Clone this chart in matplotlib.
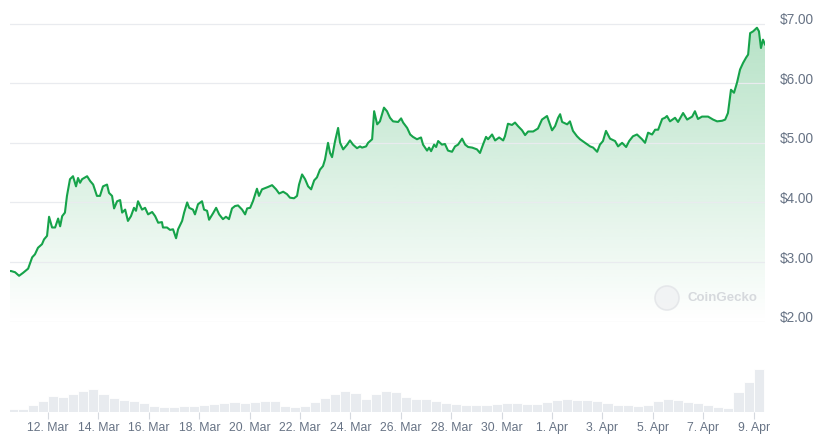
import numpy as np
import matplotlib.pyplot as plt
import matplotlib.transforms as mtransforms
from matplotlib.patches import Circle

# time axis: days after 12 Mar 00:00
days = [-1.51, -1.47, -1.31, -1.15, -0.99, -0.79, -0.63, -0.52, -0.40, -0.24, -0.16, -0.04,
        0.04, 0.16, 0.28, 0.40, 0.48, 0.56, 0.67, 0.75, 0.87, 0.99, 1.11, 1.19, 1.27, 1.35,
        1.55, 1.67, 1.79, 1.94, 2.06, 2.18, 2.34, 2.42, 2.54, 2.62, 2.74, 2.86, 2.94, 3.06,
        3.17, 3.29, 3.41, 3.49, 3.57, 3.73, 3.85, 3.97, 4.13, 4.25, 4.37, 4.52, 4.56, 4.72,
        4.84, 4.96, 5.08, 5.16, 5.32, 5.40, 5.52, 5.60, 5.75, 5.83, 5.95, 6.11, 6.19, 6.31,
        6.39, 6.55, 6.67, 6.79, 6.94, 7.06, 7.18, 7.30, 7.42, 7.54, 7.70, 7.82, 7.90, 8.02,
        8.13, 8.29, 8.37, 8.49, 8.61, 8.73, 8.89, 9.05, 9.17, 9.33, 9.48, 9.60, 9.76, 9.88,
        9.96, 10.08, 10.20, 10.32, 10.44, 10.56, 10.67, 10.79, 10.91, 10.99, 11.11, 11.19,
        11.27, 11.39, 11.51, 11.59, 11.71, 11.87, 11.98, 12.10, 12.26, 12.38, 12.46, 12.62,
        12.70, 12.86, 12.94, 13.06, 13.17, 13.33, 13.45, 13.57, 13.69, 13.89, 14.01, 14.09,
        14.25, 14.37, 14.48, 14.64, 14.80, 14.88, 15.04, 15.12, 15.20, 15.32, 15.40, 15.48,
        15.63, 15.75, 15.87, 16.03, 16.15, 16.27, 16.43, 16.55, 16.67, 16.83, 17.02, 17.14,
        17.26, 17.38, 17.46, 17.62, 17.74, 17.90, 18.06, 18.13, 18.25, 18.41, 18.53, 18.65,
        18.81, 18.93, 19.05, 19.25, 19.44, 19.60, 19.80, 20.00, 20.12, 20.24, 20.32, 20.40,
        20.60, 20.71, 20.83, 20.99, 21.11, 21.31, 21.51, 21.63, 21.79, 21.90, 22.02, 22.14,
        22.30, 22.50, 22.62, 22.78, 22.94, 23.06, 23.21, 23.37, 23.57, 23.69, 23.81, 23.97,
        24.09, 24.21, 24.37, 24.48, 24.56, 24.68, 24.88, 25.00, 25.20, 25.36, 25.56, 25.67,
        25.79, 25.95, 26.19, 26.39, 26.55, 26.75, 26.87, 26.98, 27.10, 27.22, 27.34, 27.46,
        27.58, 27.70, 27.78, 27.86, 27.98, 28.13, 28.21, 28.29, 28.37, 28.45]
price = [2.85, 2.85, 2.83, 2.77, 2.82, 2.89, 3.08, 3.13, 3.24, 3.30, 3.38, 3.44,
         3.76, 3.58, 3.58, 3.73, 3.60, 3.77, 3.83, 4.11, 4.39, 4.44, 4.27, 4.41, 4.33, 4.39,
         4.44, 4.36, 4.30, 4.11, 4.11, 4.27, 4.30, 4.16, 4.11, 3.90, 4.02, 4.04, 3.83, 3.88,
         3.69, 3.77, 3.91, 3.86, 4.02, 3.88, 3.91, 3.80, 3.84, 3.77, 3.66, 3.67, 3.58, 3.58,
         3.54, 3.55, 3.40, 3.55, 3.69, 3.83, 4.00, 3.91, 3.88, 3.80, 3.97, 4.02, 3.88, 3.86,
         3.71, 3.82, 3.91, 3.80, 3.72, 3.76, 3.72, 3.90, 3.94, 3.95, 3.88, 3.80, 3.90, 3.91,
         4.02, 4.23, 4.11, 4.22, 4.24, 4.26, 4.29, 4.22, 4.15, 4.18, 4.14, 4.08, 4.07, 4.11,
         4.30, 4.47, 4.39, 4.27, 4.22, 4.37, 4.42, 4.55, 4.61, 4.72, 5.00, 4.83,
         4.76, 5.03, 5.25, 5.00, 4.89, 4.97, 5.04, 4.97, 4.91, 4.94, 4.92, 4.94,
         5.00, 5.06, 5.53, 5.31, 5.36, 5.59, 5.53, 5.42, 5.36, 5.35, 5.41, 5.34,
         5.25, 5.14, 5.10, 5.06, 5.09, 4.97, 4.87, 4.92, 4.86, 4.97, 4.93, 5.03,
         4.97, 4.98, 4.87, 4.85, 4.94, 4.97, 5.07, 4.97, 4.93, 4.92, 4.89, 4.83,
         4.97, 5.10, 5.06, 5.14, 5.04, 5.09, 5.04, 5.11, 5.32, 5.30, 5.34, 5.28,
         5.21, 5.13, 5.19, 5.19, 5.24, 5.39, 5.45, 5.21, 5.28, 5.42, 5.48, 5.35,
         5.31, 5.36, 5.20, 5.11, 5.06, 5.00, 4.94, 4.92, 4.85, 4.97, 5.03, 5.20,
         5.07, 5.03, 4.94, 5.00, 4.93, 5.03, 5.11, 5.14, 5.06, 5.00, 5.17, 5.14,
         5.22, 5.22, 5.40, 5.42, 5.45, 5.36, 5.42, 5.35, 5.50, 5.39, 5.44, 5.53,
         5.40, 5.44, 5.44, 5.39, 5.36, 5.37, 5.39, 5.50, 5.89, 5.84, 6.01, 6.23,
         6.34, 6.43, 6.48, 6.84, 6.87, 6.93, 6.87, 6.59, 6.73, 6.65]

vol_days = np.arange(-1.4, 28.3, 0.4)
volume = [7, 7, 15, 22, 33, 31, 36, 43, 47, 36, 28, 25, 22, 18, 13, 10, 10, 12, 13,
          15, 17, 19, 20, 18, 20, 23, 23, 13, 11, 13, 20, 29, 37, 43, 38, 27, 36, 42,
          40, 30, 27, 26, 22, 18, 16, 15, 15, 15, 17, 18, 19, 17, 17, 20, 24, 26, 24,
          24, 22, 19, 15, 14, 12, 15, 22, 26, 25, 21, 18, 15, 11, 9, 40, 60, 86]

tick_days = list(range(0, 29, 2))
tick_labels = ['12. Mar', '14. Mar', '16. Mar', '18. Mar', '20. Mar', '22. Mar', '24. Mar',
               '26. Mar', '28. Mar', '30. Mar', '1. Apr', '3. Apr', '5. Apr', '7. Apr', '9. Apr']
price_ticks = [2, 3, 4, 5, 6, 7]

green = '#16a34a'
label_col = '#677385'
W, H = 817, 442
fig = plt.figure(figsize=(W / 100, H / 100), dpi=100)
plt.rcParams['font.family'] = ['Liberation Sans', 'DejaVu Sans']

x0, x1 = days[0], days[-1]
ax = fig.add_axes([10 / W, 1 - 322 / H, 755 / W, 302 / H])
ax.set_xlim(x0, x1)
ax.set_ylim(1.995, 7.06)

# gradient fill under the line
poly = ax.fill_between(days, price, 1.995, facecolor='none', edgecolor='none')
grad = np.zeros((256, 1, 4))
grad[:, 0, 0:3] = [22 / 255, 163 / 255, 74 / 255]
grad[:, 0, 3] = np.linspace(0.0, 0.32, 256)
im = ax.imshow(grad, extent=[x0, x1, 1.995, 7.06], aspect='auto', origin='lower', zorder=1)
im.set_clip_path(poly.get_paths()[0], transform=ax.transData)
ax.plot(days, price, color=green, lw=1.5, zorder=3, solid_joinstyle='round')

ax.set_yticks(price_ticks)
ax.set_yticklabels(['$%.2f' % v for v in price_ticks])
ax.yaxis.tick_right()
ax.tick_params(axis='y', length=0, pad=10.5, labelsize=9.8, labelcolor=label_col)
ax.set_xticks([])
ax.grid(axis='y', color='#e9ebef', lw=0.9, zorder=0)
for s in ax.spines.values():
    s.set_visible(False)
shift = mtransforms.ScaledTranslation(0, 0.05, fig.dpi_scale_trans)
for lab in ax.get_yticklabels():
    lab.set_transform(lab.get_transform() + shift)

# volume panel
vax = fig.add_axes([10 / W, 1 - 412 / H, 755 / W, 80 / H])
vax.bar(vol_days, volume, width=0.4, color='#e8ebef', edgecolor='white', linewidth=0.6)
vax.set_xlim(x0, x1)
vax.set_ylim(0, 160)
vax.set_yticks([])
vax.set_xticks(tick_days)
vax.set_xticklabels(tick_labels)
vax.tick_params(axis='x', length=5, width=0.8, color='#d5d9df', pad=2.5,
                labelsize=8.8, labelcolor=label_col)
for s in vax.spines.values():
    s.set_visible(False)

# watermark
fig.patches.append(Circle((6.67, (H - 298) / 100), 0.12, transform=fig.dpi_scale_trans,
                          facecolor='#f1f2f4', edgecolor='#e4e6e9', lw=1.2, alpha=0.9,
                          zorder=5))
fig.text(687 / W, 1 - 298 / H, 'CoinGecko', fontsize=9.5, fontweight='bold',
         color='#d6d9dd', ha='left', va='center', zorder=6)

fig.savefig('out.png', dpi=100)
